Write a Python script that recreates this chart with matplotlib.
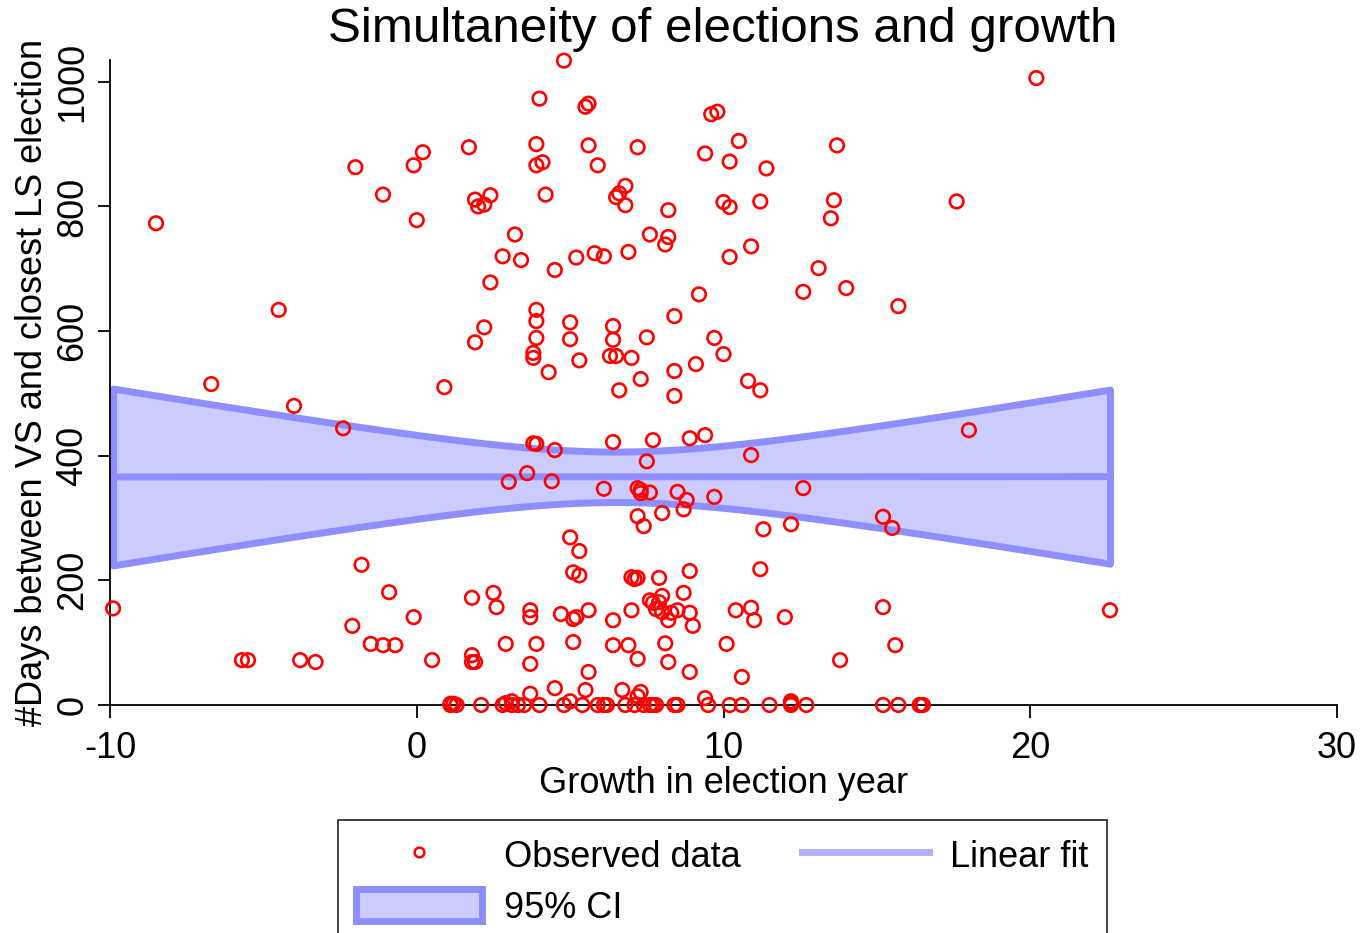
import numpy as np
import matplotlib
matplotlib.use("Agg")
import matplotlib.pyplot as plt
from matplotlib.patches import Patch
from matplotlib.lines import Line2D

plt.rcParams['font.family'] = ['Liberation Sans', 'DejaVu Sans']
plt.rcParams['axes.unicode_minus'] = False

# Observed data: growth in election year (x) vs days between VS and closest LS election (y)
growth = [
    4.8, 20.2, 4.0, 5.6, 5.5, 9.8, 9.6, 10.5, 3.9, 5.6, 7.2, 1.7, 13.7, 9.4, 0.2, -0.1, -2.0, 4.1, 3.9, 5.9,
    10.2, 11.4, 6.8, 6.6, 6.5, -1.1, 2.4, 1.9, 2.0, 2.2, 4.2, 6.8, 8.2, 10.0, 10.2, 11.2, 17.6, 13.6, 13.5, 0.0,
    -8.5, 3.2, 7.6, 8.2, 8.1, 10.9, 2.8, 3.4, 5.2, 5.8, 6.1, 10.2, 6.9, 13.1, 4.5, 2.4, 12.6, 14.0, 9.2, -4.5,
    15.7, 3.9, 3.9, 5.0, 6.4, 2.2, 8.4, 3.9, 5.0, 6.4, 7.5, 1.9, 9.7, 10.0, 3.8, 3.8, 6.3, 6.5, 7.0, 5.3,
    9.1, 4.3, 8.4, 7.3, 10.8, 11.2, 6.6, 8.4, 0.9, -6.7, -4.0, -2.4, 18.0, 3.8, 3.9, 6.4, 7.7, 9.4, 8.9, 4.5,
    10.9, 7.5, 3.6, 4.4, 3.0, 6.1, 7.2, 7.3, 7.3, 7.6, 8.5, 12.6, 9.7, 8.8, 8.7, 8.0, 7.2, 7.4, 15.2, 15.5,
    11.3, 12.2, 5.0, 5.3, -1.8, 5.1, 5.3, 7.0, 7.1, 7.2, 8.9, 7.9, 11.2, -0.9, 2.5, 8.0, 1.8, 8.7, 7.6, 7.7,
    7.9, 2.6, 3.7, 3.7, 5.6, 4.7, 5.1, 5.2, 7.0, 7.8, 8.0, 8.3, 8.5, 8.2, 8.9, 9.0, 6.4, 10.4, 10.9, 11.0,
    12.0, 15.2, 22.6, -9.9, -0.1, -2.1, -1.5, -1.1, -0.7, 2.9, 3.9, 5.1, 6.4, 6.9, 8.1, 10.1, 15.6, -5.7, -5.5, -3.8,
    -3.3, 0.5, 1.8, 1.8, 1.9, 3.7, 7.2, 8.2, 13.8, 5.6, 8.9, 10.6, 4.5, 5.5, 6.7, 7.3, 7.2, 3.7, 3.1, 2.9,
    5.0, 9.4, 12.2, 12.2, 1.1, 1.2,
    1.1, 1.3, 2.1, 2.8, 3.1, 3.3, 3.5, 4.0, 4.8, 5.4, 5.9, 6.1, 6.2, 6.8, 7.1, 7.4, 7.6, 7.7, 7.8, 8.4,
    8.5, 9.5, 10.2, 10.6, 11.5, 12.2, 12.7, 15.2, 15.7, 16.4, 16.4, 16.5,
]
days = [
    1034, 1006, 973, 965, 960, 952, 948, 905, 900, 898, 895, 895, 898, 885, 887, 866, 863, 871, 866, 866,
    872, 861, 833, 821, 815, 819, 818, 811, 800, 803, 819, 802, 794, 807, 799, 808, 808, 810, 781, 778,
    773, 755, 755, 751, 739, 736, 720, 714, 718, 725, 720, 719, 727, 701, 698, 678, 663, 669, 659, 634,
    640, 634, 616, 614, 608, 606, 624, 589, 587, 586, 590, 582, 589, 563, 565, 557, 560, 560, 557, 553,
    547, 534, 536, 523, 520, 505, 505, 496, 510, 515, 480, 444, 441, 420, 419, 422, 425, 433, 428, 409,
    401, 391, 372, 359, 358, 347, 348, 345, 340, 341, 342, 348, 334, 329, 314, 308, 303, 287, 302, 284,
    282, 290, 269, 247, 225, 213, 208, 205, 202, 204, 215, 204, 218, 181, 180, 175, 172, 180, 168, 164,
    165, 157, 152, 141, 152, 146, 138, 141, 152, 154, 149, 148, 152, 136, 148, 127, 136, 152, 156, 136,
    141, 157, 152, 155, 141, 127, 98, 96, 96, 98, 98, 101, 96, 96, 99, 98, 96, 72, 72, 72,
    69, 72, 80, 69, 69, 66, 74, 69, 72, 53, 53, 45, 27, 24, 24, 21, 14, 18, 6, 3,
    6, 11, 6, 2, 2, 2,
    0, 0, 0, 0, 0, 0, 0, 0, 0, 0, 0, 0, 0, 0, 0, 0, 0, 0, 0, 0,
    0, 0, 0, 0, 0, 0, 0, 0, 0, 0, 0, 0,
]

x_ticks = [-10, 0, 10, 20, 30]
y_ticks = [0, 200, 400, 600, 800, 1000]

x = np.array(growth, dtype=float)
y = np.array(days, dtype=float)

# OLS linear fit with 95% CI of the mean prediction
n = len(x)
xm = x.mean()
sxx = ((x - xm) ** 2).sum()
b = ((x - xm) * (y - y.mean())).sum() / sxx
a = y.mean() - b * xm
resid = y - (a + b * x)
s = np.sqrt((resid ** 2).sum() / (n - 2))
tcrit = 1.9687
grid = np.linspace(x.min(), x.max(), 200)
fit = a + b * grid
se = s * np.sqrt(1.0 / n + (grid - xm) ** 2 / sxx)
lo = fit - tcrit * se
hi = fit + tcrit * se

ci_face = '#CBCBFF'
ci_edge = '#8E8EFF'
fit_col = '#8E8EFF'
FS = 26

fig = plt.figure(figsize=(13.63, 9.33), dpi=100)
ax = fig.add_axes([110 / 1363, 1 - 705 / 933, (1337 - 110) / 1363, (705 - 60) / 933])

ax.fill_between(grid, lo, hi, facecolor=ci_face, edgecolor=ci_edge, linewidth=5, zorder=1)
ax.plot(grid, fit, color=fit_col, linewidth=5, zorder=2)
ax.scatter(x, y, s=95, facecolors='none', edgecolors='red', linewidths=1.9, zorder=3, clip_on=False)

ax.set_xlim(-10, 30)
ax.set_ylim(0, 1035)
ax.set_xticks(x_ticks)
ax.set_yticks(y_ticks)
ax.tick_params(axis='both', labelsize=FS, length=9, width=1.3, direction='out')
ax.tick_params(axis='x', pad=10)
ax.tick_params(axis='y', pad=5)
for lab in ax.get_yticklabels():
    lab.set_rotation(90)
    lab.set_va('center')
ax.spines['top'].set_visible(False)
ax.spines['right'].set_visible(False)
ax.spines['left'].set_linewidth(1.3)
ax.spines['bottom'].set_linewidth(1.3)

ax.set_xlabel('Growth in election year', fontsize=FS, labelpad=0)
ax.set_ylabel('#Days between VS and closest LS election', fontsize=FS, labelpad=4)
fig.text(0.530, 1 - 30 / 933, 'Simultaneity of elections and growth', fontsize=35.5,
         ha='center', va='center')

h_pts = Line2D([], [], linestyle='none', marker='o', markersize=7, markerfacecolor='none',
               markeredgecolor='red', markeredgewidth=1.8)
h_ci = Patch(facecolor=ci_face, edgecolor=ci_edge, linewidth=5)
h_fit = Line2D([], [], color='#AFAFFF', linewidth=5)
leg = fig.legend([h_pts, h_ci, h_fit], ['Observed data', '95% CI', 'Linear fit'], ncol=2,
                 loc='upper center', bbox_to_anchor=(0.530, 1 - 820 / 933), fontsize=FS,
                 frameon=True, fancybox=False, edgecolor='black', handlelength=3.5,
                 handleheight=1.0, handletextpad=0.6, columnspacing=1.7, labelspacing=0.4,
                 borderpad=0.5, borderaxespad=0)
leg.get_frame().set_linewidth(1.3)

fig.savefig('out.png', dpi=100)
